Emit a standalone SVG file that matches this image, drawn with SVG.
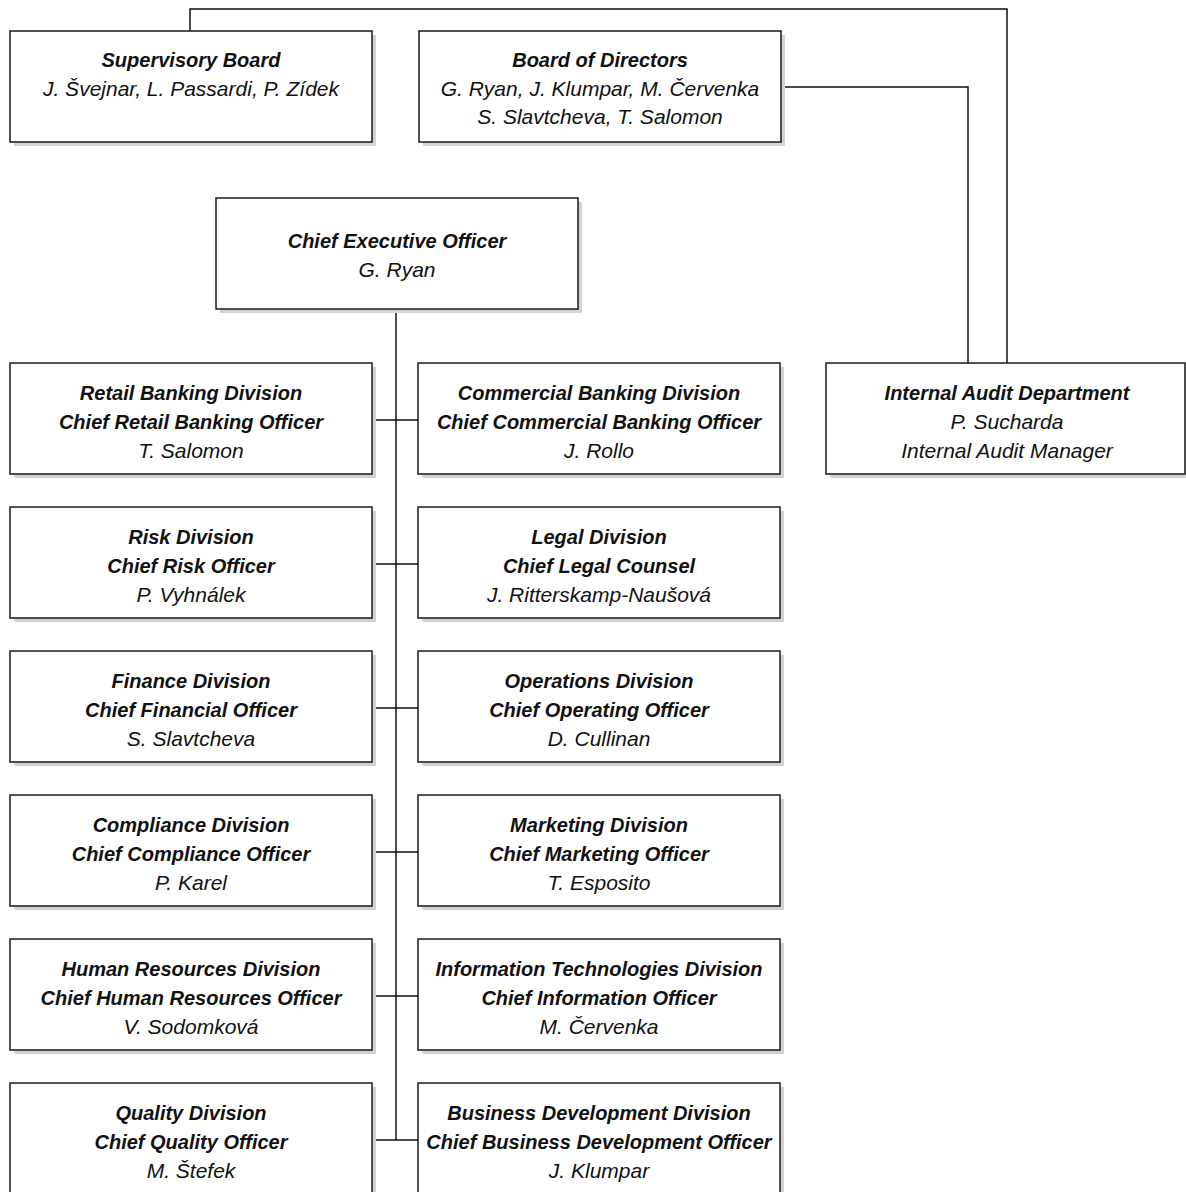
<svg xmlns="http://www.w3.org/2000/svg" width="1186" height="1192" viewBox="0 0 1186 1192">
<style>
.sh{fill:#d3d3d3;stroke:none}
.bx{fill:#fff;stroke:#1a1a1a;stroke-width:1.5}
text{font-family:"Liberation Sans",Arial,sans-serif;font-style:italic;text-anchor:middle;fill:#111}
.t{font-weight:bold;font-size:20px}
.n{font-size:21px}
.c{fill:none;stroke:#111;stroke-width:1.5}
</style>
<defs>
<g id="card"><rect class="sh" x="4" y="4" width="362" height="111"/><rect class="bx" x="0" y="0" width="362" height="111"/></g>
</defs>
<g id="connectors">
<polyline class="c" points="190,31 190,9 1007,9 1007,363"/>
<polyline class="c" points="785,87 968,87 968,363"/>
<line class="c" x1="396" y1="313" x2="396" y2="1140"/>
<line class="c" x1="376" y1="420" x2="418" y2="420"/>
<line class="c" x1="376" y1="564" x2="418" y2="564"/>
<line class="c" x1="376" y1="708" x2="418" y2="708"/>
<line class="c" x1="376" y1="852" x2="418" y2="852"/>
<line class="c" x1="376" y1="996" x2="418" y2="996"/>
<line class="c" x1="376" y1="1140" x2="418" y2="1140"/>
</g>
<g id="supervisory-board"><use href="#card" x="10" y="31"/>
<text class="t" x="191" y="67">Supervisory Board</text>
<text class="n" x="191" y="96">J. Švejnar, L. Passardi, P. Zídek</text></g>
<g id="board-of-directors"><use href="#card" x="419" y="31"/>
<text class="t" x="600" y="67">Board of Directors</text>
<text class="n" x="600" y="96">G. Ryan, J. Klumpar, M. Červenka</text>
<text class="n" x="600" y="124">S. Slavtcheva, T. Salomon</text></g>
<g id="ceo"><use href="#card" x="216" y="198"/>
<text class="t" x="397" y="248">Chief Executive Officer</text>
<text class="n" x="397" y="277">G. Ryan</text></g>
<g id="internal-audit"><rect class="sh" x="830" y="367" width="360" height="111"/><rect class="bx" x="826" y="363" width="359" height="111"/>
<text class="t" x="1007" y="400">Internal Audit Department</text>
<text class="n" x="1007" y="429">P. Sucharda</text>
<text class="n" x="1007" y="458">Internal Audit Manager</text></g>
<g id="retail"><use href="#card" x="10" y="363"/>
<text class="t" x="191" y="400">Retail Banking Division</text>
<text class="t" x="191" y="429">Chief Retail Banking Officer</text>
<text class="n" x="191" y="458">T. Salomon</text></g>
<g id="commercial"><use href="#card" x="418" y="363"/>
<text class="t" x="599" y="400">Commercial Banking Division</text>
<text class="t" x="599" y="429">Chief Commercial Banking Officer</text>
<text class="n" x="599" y="458">J. Rollo</text></g>
<g id="risk"><use href="#card" x="10" y="507"/>
<text class="t" x="191" y="544">Risk Division</text>
<text class="t" x="191" y="573">Chief Risk Officer</text>
<text class="n" x="191" y="602">P. Vyhnálek</text></g>
<g id="legal"><use href="#card" x="418" y="507"/>
<text class="t" x="599" y="544">Legal Division</text>
<text class="t" x="599" y="573">Chief Legal Counsel</text>
<text class="n" x="599" y="602">J. Ritterskamp-Naušová</text></g>
<g id="finance"><use href="#card" x="10" y="651"/>
<text class="t" x="191" y="688">Finance Division</text>
<text class="t" x="191" y="717">Chief Financial Officer</text>
<text class="n" x="191" y="746">S. Slavtcheva</text></g>
<g id="operations"><use href="#card" x="418" y="651"/>
<text class="t" x="599" y="688">Operations Division</text>
<text class="t" x="599" y="717">Chief Operating Officer</text>
<text class="n" x="599" y="746">D. Cullinan</text></g>
<g id="compliance"><use href="#card" x="10" y="795"/>
<text class="t" x="191" y="832">Compliance Division</text>
<text class="t" x="191" y="861">Chief Compliance Officer</text>
<text class="n" x="191" y="890">P. Karel</text></g>
<g id="marketing"><use href="#card" x="418" y="795"/>
<text class="t" x="599" y="832">Marketing Division</text>
<text class="t" x="599" y="861">Chief Marketing Officer</text>
<text class="n" x="599" y="890">T. Esposito</text></g>
<g id="hr"><use href="#card" x="10" y="939"/>
<text class="t" x="191" y="976">Human Resources Division</text>
<text class="t" x="191" y="1005">Chief Human Resources Officer</text>
<text class="n" x="191" y="1034">V. Sodomková</text></g>
<g id="it"><use href="#card" x="418" y="939"/>
<text class="t" x="599" y="976">Information Technologies Division</text>
<text class="t" x="599" y="1005">Chief Information Officer</text>
<text class="n" x="599" y="1034">M. Červenka</text></g>
<g id="quality"><use href="#card" x="10" y="1083"/>
<text class="t" x="191" y="1120">Quality Division</text>
<text class="t" x="191" y="1149">Chief Quality Officer</text>
<text class="n" x="191" y="1178">M. Štefek</text></g>
<g id="business-development"><use href="#card" x="418" y="1083"/>
<text class="t" x="599" y="1120">Business Development Division</text>
<text class="t" x="599" y="1149">Chief Business Development Officer</text>
<text class="n" x="599" y="1178">J. Klumpar</text></g>
</svg>
